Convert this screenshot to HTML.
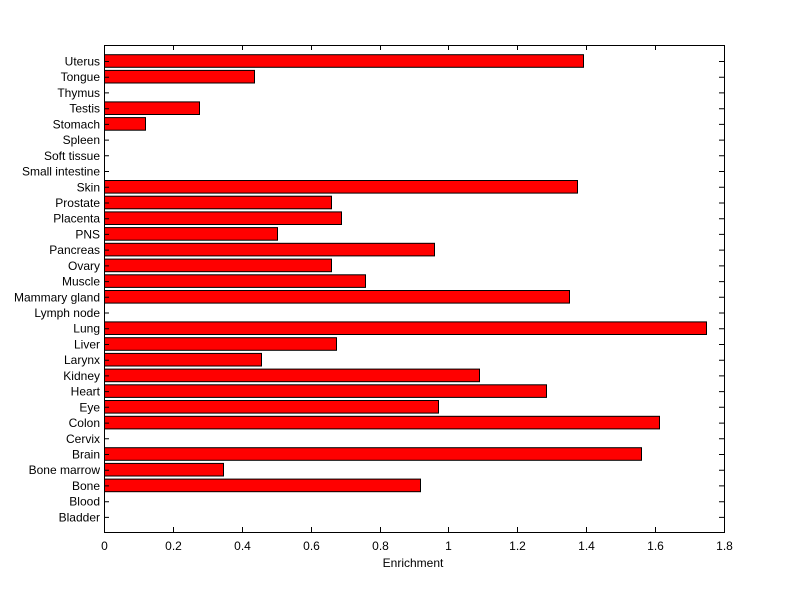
<!DOCTYPE html>
<html><head><meta charset="utf-8"><style>
html,body{margin:0;padding:0;background:#fff;}
svg text{font-family:"Liberation Sans",sans-serif;font-size:12px;fill:#000;}
</style></head><body>
<svg width="800" height="599" viewBox="0 0 800 599" xmlns="http://www.w3.org/2000/svg">
<rect x="0" y="0" width="800" height="599" fill="#fff"/>
<rect x="104.5" y="45.5" width="620" height="487" fill="#fff" stroke="#000" stroke-width="1"/>
<g fill="#ff0000" stroke="#000" stroke-width="1">
<rect x="104.5" y="54.7" width="479" height="12.6"/>
<rect x="104.5" y="70.4" width="150" height="12.6"/>
<rect x="104.5" y="101.9" width="95" height="12.6"/>
<rect x="104.5" y="117.6" width="41" height="12.6"/>
<rect x="104.5" y="180.5" width="473" height="12.6"/>
<rect x="104.5" y="196.2" width="227" height="12.6"/>
<rect x="104.5" y="211.9" width="237" height="12.6"/>
<rect x="104.5" y="227.6" width="173" height="12.6"/>
<rect x="104.5" y="243.3" width="330" height="12.6"/>
<rect x="104.5" y="259.1" width="227" height="12.6"/>
<rect x="104.5" y="274.8" width="261" height="12.6"/>
<rect x="104.5" y="290.5" width="465" height="12.6"/>
<rect x="104.5" y="321.9" width="602" height="12.6"/>
<rect x="104.5" y="337.7" width="232" height="12.6"/>
<rect x="104.5" y="353.4" width="157" height="12.6"/>
<rect x="104.5" y="369.1" width="375" height="12.6"/>
<rect x="104.5" y="384.8" width="442" height="12.6"/>
<rect x="104.5" y="400.5" width="334" height="12.6"/>
<rect x="104.5" y="416.3" width="555" height="12.6"/>
<rect x="104.5" y="447.7" width="537" height="12.6"/>
<rect x="104.5" y="463.4" width="119" height="12.6"/>
<rect x="104.5" y="479.1" width="316" height="12.6"/>
</g>
<g stroke="#000" stroke-width="1">
<path d="M104 61.5h5M104 77.2h5M104 92.9h5M104 108.7h5M104 124.4h5M104 140.1h5M104 155.8h5M104 171.5h5M104 187.3h5M104 203h5M104 218.7h5M104 234.4h5M104 250.1h5M104 265.9h5M104 281.6h5M104 297.3h5M104 313h5M104 328.7h5M104 344.5h5M104 360.2h5M104 375.9h5M104 391.6h5M104 407.3h5M104 423.1h5M104 438.8h5M104 454.5h5M104 470.2h5M104 485.9h5M104 501.7h5M104 517.4h5"/>
<path d="M719 61.5h5M719 77.2h5M719 92.9h5M719 108.7h5M719 124.4h5M719 140.1h5M719 155.8h5M719 171.5h5M719 187.3h5M719 203h5M719 218.7h5M719 234.4h5M719 250.1h5M719 265.9h5M719 281.6h5M719 297.3h5M719 313h5M719 328.7h5M719 344.5h5M719 360.2h5M719 375.9h5M719 391.6h5M719 407.3h5M719 423.1h5M719 438.8h5M719 454.5h5M719 470.2h5M719 485.9h5M719 501.7h5M719 517.4h5"/>
<path d="M104.5 532v-5M173.5 532v-5M242.5 532v-5M311.5 532v-5M380.5 532v-5M448.5 532v-5M517.5 532v-5M586.5 532v-5M655.5 532v-5M724.5 532v-5"/>
<path d="M104.5 45v5M173.5 45v5M242.5 45v5M311.5 45v5M380.5 45v5M448.5 45v5M517.5 45v5M586.5 45v5M655.5 45v5M724.5 45v5"/>
</g>
<g text-anchor="end">
<text x="100" y="65.5">Uterus</text>
<text x="100" y="81.2">Tongue</text>
<text x="100" y="96.9">Thymus</text>
<text x="100" y="112.7">Testis</text>
<text x="100" y="128.4">Stomach</text>
<text x="100" y="144.1">Spleen</text>
<text x="100" y="159.8">Soft tissue</text>
<text x="100" y="175.5">Small intestine</text>
<text x="100" y="191.3">Skin</text>
<text x="100" y="207">Prostate</text>
<text x="100" y="222.7">Placenta</text>
<text x="100" y="238.4">PNS</text>
<text x="100" y="254.1">Pancreas</text>
<text x="100" y="269.9">Ovary</text>
<text x="100" y="285.6">Muscle</text>
<text x="100" y="301.3">Mammary gland</text>
<text x="100" y="317">Lymph node</text>
<text x="100" y="332.7">Lung</text>
<text x="100" y="348.5">Liver</text>
<text x="100" y="364.2">Larynx</text>
<text x="100" y="379.9">Kidney</text>
<text x="100" y="395.6">Heart</text>
<text x="100" y="411.3">Eye</text>
<text x="100" y="427.1">Colon</text>
<text x="100" y="442.8">Cervix</text>
<text x="100" y="458.5">Brain</text>
<text x="100" y="474.2">Bone marrow</text>
<text x="100" y="489.9">Bone</text>
<text x="100" y="505.7">Blood</text>
<text x="100" y="521.4">Bladder</text>
</g>
<g text-anchor="middle">
<text x="104.5" y="550">0</text>
<text x="173.5" y="550">0.2</text>
<text x="242.5" y="550">0.4</text>
<text x="311.5" y="550">0.6</text>
<text x="380.5" y="550">0.8</text>
<text x="448.5" y="550">1</text>
<text x="517.5" y="550">1.2</text>
<text x="586.5" y="550">1.4</text>
<text x="655.5" y="550">1.6</text>
<text x="724.5" y="550">1.8</text>
<text x="413" y="567">Enrichment</text>
</g>
</svg>
</body></html>
